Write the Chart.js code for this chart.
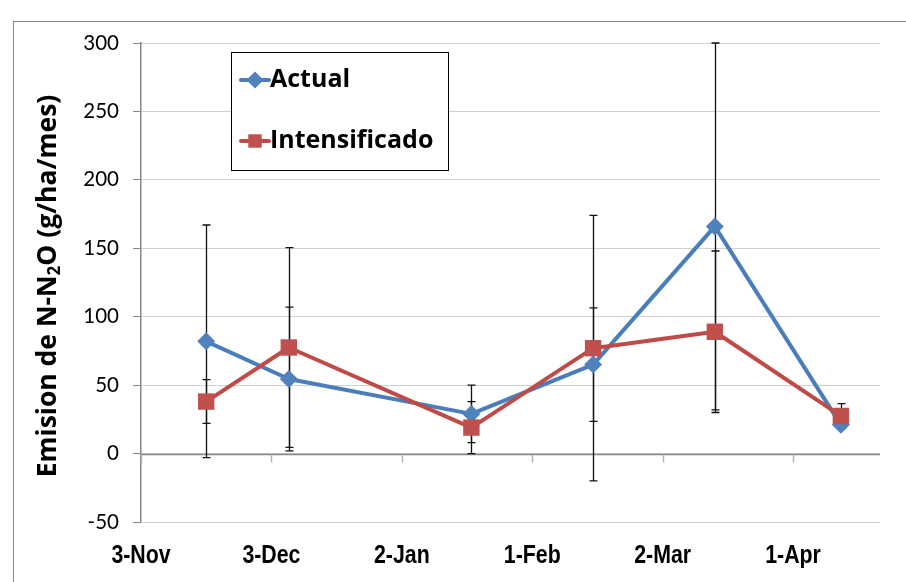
<!DOCTYPE html>
<html>
<head>
<meta charset="utf-8">
<title>Emision de N-N2O</title>
<script src="https://cdn.jsdelivr.net/npm/chart.js@4.4.1/dist/chart.umd.min.js"></script>
<style>
    html, body { margin: 0; padding: 0; background: #ffffff; }
    #wrap { width: 906px; height: 582px; }
</style>
</head>
<body>
<div id="wrap"><canvas id="emission-chart" width="906" height="582"></canvas></div>
<script>
// sampling dates and monthly N-N2O emission (g/ha/mes) with their error bars
const startDate = '2011-11-03';
const endDate = '2012-04-21';
const sampleDates = ['2011-11-18', '2011-12-07', '2012-01-18', '2012-02-15', '2012-03-14', '2012-04-12'];
const tickDates = ['2011-11-03', '2011-12-03', '2012-01-02', '2012-02-01', '2012-03-02', '2012-04-01'];
const tickLabels = ['3-Nov', '3-Dec', '2-Jan', '1-Feb', '2-Mar', '1-Apr'];
const yTicks = [-50, 0, 50, 100, 150, 200, 250, 300];

const actualValues = [82, 54.5, 29, 65, 166, 21];
const actualErrors = [85, 52.5, 21, 41.5, 134, 3];
const intensValues = [38, 77.5, 19, 77, 89, 27.5];
const intensErrors = [16, 73, 19, 97, 59, 9];

const dayOf = (d) => (Date.parse(d) - Date.parse(startDate)) / 86400000;
const toPoints = (values) => sampleDates.map((d, i) => ({ x: dayOf(d), y: values[i] }));

const tickFont = 'Lato, "Open Sans", sans-serif';
const boldFont = '"Open Sans", Lato, sans-serif';
const dateFont = '"Liberation Sans", Arial, sans-serif';

// outer frame of the chart object
const framePlugin = {
    id: 'frame',
    beforeDraw(chart) {
        const { ctx } = chart;
        ctx.save();
        ctx.strokeStyle = '#878787';
        ctx.lineWidth = 1;
        ctx.strokeRect(13.5, 21.5, 1200, 1200);
        ctx.restore();
    },
};

// horizontal axis line crossing at zero, with its tick marks
const zeroLinePlugin = {
    id: 'zeroLine',
    beforeDatasetsDraw(chart) {
        const { ctx, chartArea, scales } = chart;
        const y0 = Math.round(scales.y.getPixelForValue(0)) + 0.5;
        ctx.save();
        ctx.strokeStyle = '#868686';
        ctx.lineWidth = 1.5;
        ctx.beginPath();
        ctx.moveTo(chartArea.left, y0);
        ctx.lineTo(chartArea.right, y0);
        ctx.stroke();
        ctx.strokeStyle = '#b4b4b4';
        scales.x.ticks.forEach((tick) => {
            const x = Math.round(scales.x.getPixelForValue(tick.value)) + 0.5;
            ctx.beginPath();
            ctx.moveTo(x, y0);
            ctx.lineTo(x, y0 + 8);
            ctx.stroke();
        });
        ctx.restore();
    },
};

// date labels under the plot, set in a condensed bold face
const dateLabelPlugin = {
    id: 'dateLabels',
    afterDraw(chart) {
        const { ctx, scales } = chart;
        ctx.save();
        ctx.fillStyle = '#000000';
        ctx.font = `bold 26px ${dateFont}`;
        ctx.textAlign = 'center';
        ctx.textBaseline = 'middle';
        scales.x.ticks.forEach((tick, i) => {
            ctx.save();
            ctx.translate(scales.x.getPixelForValue(tick.value), 556);
            ctx.scale(0.82, 1);
            ctx.fillText(tickLabels[i], 0, 0);
            ctx.restore();
        });
        ctx.restore();
    },
};

// vertical error bars with small caps
const errorBarPlugin = {
    id: 'errorBars',
    beforeDatasetsDraw(chart) {
        const { ctx, scales } = chart;
        ctx.save();
        ctx.strokeStyle = '#111111';
        ctx.lineWidth = 1.3;
        chart.data.datasets.forEach((dataset, i) => {
            const meta = chart.getDatasetMeta(i);
            dataset.data.forEach((point, j) => {
                const err = dataset.errors[j];
                const x = Math.round(meta.data[j].x) + 0.5;
                const top = scales.y.getPixelForValue(point.y + err);
                const bottom = scales.y.getPixelForValue(point.y - err);
                ctx.beginPath();
                ctx.moveTo(x, top);
                ctx.lineTo(x, bottom);
                ctx.moveTo(x - 4, top);
                ctx.lineTo(x + 4, top);
                ctx.moveTo(x - 4, bottom);
                ctx.lineTo(x + 4, bottom);
                ctx.stroke();
            });
        });
        ctx.restore();
    },
};

// rotated y title with the subscript in N2O
const yTitlePlugin = {
    id: 'yTitle',
    afterDraw(chart) {
        const { ctx } = chart;
        const parts = [
            { text: 'Emision de N-N', font: `bold 26.5px ${boldFont}`, dy: 0 },
            { text: '2', font: `bold 17px ${boldFont}`, dy: 7 },
            { text: 'O (g/ha/mes)', font: `bold 26.5px ${boldFont}`, dy: 0 },
        ];
        ctx.save();
        let total = 0;
        parts.forEach((p) => {
            ctx.font = p.font;
            p.width = ctx.measureText(p.text).width;
            total += p.width;
        });
        ctx.translate(48, 286);
        ctx.rotate(-Math.PI / 2);
        ctx.fillStyle = '#000000';
        ctx.textBaseline = 'middle';
        let x = -total / 2;
        parts.forEach((p) => {
            ctx.font = p.font;
            ctx.fillText(p.text, x, p.dy);
            x += p.width;
        });
        ctx.restore();
    },
};

// boxed legend placed inside the plot area
const boxLegendPlugin = {
    id: 'boxLegend',
    afterDraw(chart) {
        const { ctx } = chart;
        const box = { left: 231, top: 52, width: 217, height: 118 };
        ctx.save();
        ctx.fillStyle = '#ffffff';
        ctx.fillRect(box.left, box.top, box.width, box.height);
        ctx.strokeStyle = '#000000';
        ctx.lineWidth = 1;
        ctx.strokeRect(box.left + 0.5, box.top + 0.5, box.width, box.height);
        const rows = [80, 141];
        chart.data.datasets.forEach((dataset, i) => {
            const y = rows[i];
            ctx.strokeStyle = dataset.borderColor;
            ctx.lineWidth = 4;
            ctx.lineCap = 'round';
            ctx.beginPath();
            ctx.moveTo(241, y);
            ctx.lineTo(269, y);
            ctx.stroke();
            ctx.fillStyle = dataset.pointBackgroundColor;
            Chart.helpers.drawPoint(ctx, {
                pointStyle: dataset.pointStyle,
                radius: dataset.pointStyle === 'rect' ? 9.5 : 8.5,
                rotation: 0,
                borderWidth: 0,
            }, 255, y);
            ctx.fillStyle = '#000000';
            ctx.font = `bold 25px ${boldFont}`;
            ctx.textBaseline = 'middle';
            ctx.fillText(dataset.label, 270, y);
        });
        ctx.restore();
    },
};

const canvas = document.getElementById('emission-chart');

new Chart(canvas, {
    type: 'line',
    data: {
        datasets: [
            {
                label: 'Actual',
                data: toPoints(actualValues),
                errors: actualErrors,
                borderColor: '#4a7ebb',
                pointBackgroundColor: '#4f81bd',
                pointBorderColor: '#4f81bd',
                borderWidth: 4,
                borderJoinStyle: 'round',
                pointStyle: 'rectRot',
                pointRadius: 9,
                pointHoverRadius: 9,
                pointBorderWidth: 0,
                tension: 0,
                order: 2,
            },
            {
                label: 'Intensificado',
                data: toPoints(intensValues),
                errors: intensErrors,
                borderColor: '#be4b48',
                pointBackgroundColor: '#c0504d',
                pointBorderColor: '#c0504d',
                borderWidth: 4,
                borderJoinStyle: 'round',
                pointStyle: 'rect',
                pointRadius: 11.6,
                pointHoverRadius: 11.6,
                pointBorderWidth: 0,
                tension: 0,
                order: 1,
            },
        ],
    },
    options: {
        responsive: false,
        animation: false,
        events: [],
        layout: {
            padding: { top: 43, right: 26, bottom: 0, left: 0 },
        },
        plugins: {
            legend: { display: false },
            tooltip: { enabled: false },
        },
        scales: {
            x: {
                type: 'linear',
                min: 0,
                max: dayOf(endDate),
                afterBuildTicks: (axis) => {
                    axis.ticks = tickDates.map((d) => ({ value: dayOf(d) }));
                },
                afterFit: (axis) => {
                    axis.height = 60;
                },
                grid: { display: false, drawTicks: false },
                border: { display: false },
                ticks: { display: false },
            },
            y: {
                min: -50,
                max: 300,
                afterBuildTicks: (axis) => {
                    axis.ticks = yTicks.map((v) => ({ value: v }));
                },
                afterFit: (axis) => {
                    axis.width = 141;
                },
                grid: {
                    color: '#d0d0d0',
                    tickColor: '#868686',
                    tickLength: 8,
                    lineWidth: 1,
                },
                border: { color: '#868686', width: 1.5 },
                ticks: {
                    font: { family: tickFont, size: 20.5 },
                    color: '#000000',
                    padding: 14,
                },
            },
        },
    },
    plugins: [framePlugin, zeroLinePlugin, errorBarPlugin, dateLabelPlugin, yTitlePlugin, boxLegendPlugin],
});
</script>
</body>
</html>
